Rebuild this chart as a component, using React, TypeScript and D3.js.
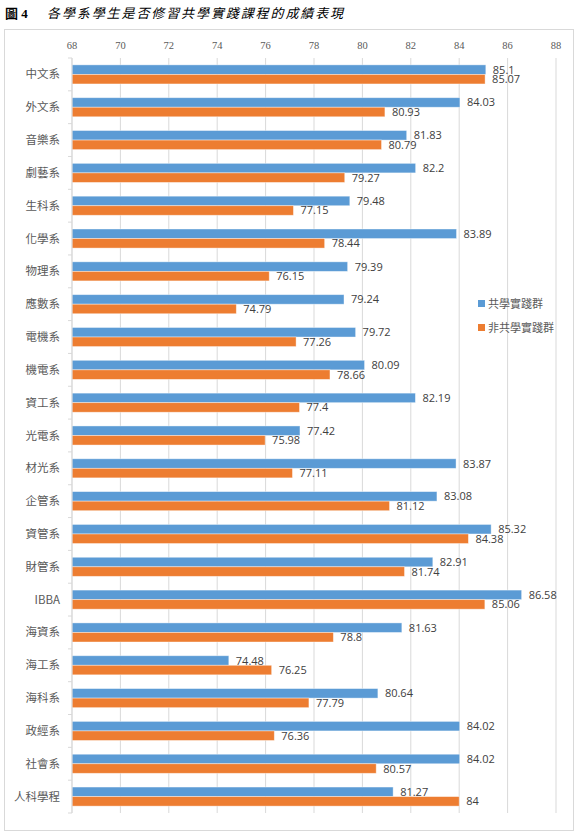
import * as d3 from "d3";

const categories = [
  "中文系", "外文系", "音樂系", "劇藝系", "生科系", "化學系", "物理系", "應數系",
  "電機系", "機電系", "資工系", "光電系", "材光系", "企管系", "資管系", "財管系",
  "IBBA", "海資系", "海工系", "海科系", "政經系", "社會系", "人科學程",
];

const practiceScores = [
  85.1, 84.03, 81.83, 82.2, 79.48, 83.89, 79.39, 79.24, 79.72, 80.09, 82.19, 77.42,
  83.87, 83.08, 85.32, 82.91, 86.58, 81.63, 74.48, 80.64, 84.02, 84.02, 81.27,
];

const nonPracticeScores = [
  85.07, 80.93, 80.79, 79.27, 77.15, 78.44, 76.15, 74.79, 77.26, 78.66, 77.4, 75.98,
  77.11, 81.12, 84.38, 81.74, 85.06, 78.8, 76.25, 77.79, 76.36, 80.57, 84,
];

const xTicks = [68, 70, 72, 74, 76, 78, 80, 82, 84, 86, 88];

const series = [
  { key: "practice", label: "共學實踐群", color: "#5b9bd5", values: practiceScores },
  { key: "nonPractice", label: "非共學實踐群", color: "#ed7d31", values: nonPracticeScores },
];

const cjk = "'Noto Sans CJK TC', 'Noto Sans CJK SC', sans-serif";

export default function App() {
  const width = 578;
  const height = 838;
  const plot = { left: 72, right: 556, top: 58, bottom: 813 };

  const x = d3.scaleLinear().domain([68, 88]).range([plot.left, plot.right]);
  const y = d3.scaleBand().domain(categories).range([plot.top, plot.bottom]).paddingInner(0).paddingOuter(0);
  const inner = d3
    .scaleBand()
    .domain(series.map((s) => s.key))
    .range([0, y.bandwidth()])
    .paddingInner(0)
    .paddingOuter(0.72);

  return (
    <svg
      width={width}
      height={height}
      viewBox={`0 0 ${width} ${height}`}
      style={{ position: "absolute", left: 0, top: 0, background: "#fff" }}
    >
      <text x={5} y={18} fontFamily="'Liberation Serif', 'Noto Sans CJK TC', serif" fontWeight="bold" fontSize={13} fill="#000">
        圖 4
      </text>
      <text
        x={47}
        y={18}
        fontFamily={cjk}
        fontStyle="italic"
        fontSize={13}
        letterSpacing={1.9}
        fill="#000"
      >
        各學系學生是否修習共學實踐課程的成績表現
      </text>

      <rect x={4.5} y={29.5} width={569} height={801} fill="none" stroke="#d9d9d9" />

      {xTicks.map((tick) => (
        <g key={tick}>
          <line x1={x(tick)} x2={x(tick)} y1={plot.top} y2={plot.bottom} stroke="#d9d9d9" strokeWidth={1} />
          <text
            x={x(tick)}
            y={49}
            textAnchor="middle"
            fontFamily="'Liberation Serif', serif"
            fontSize={10.5}
            fill="#595959"
          >
            {tick}
          </text>
        </g>
      ))}

      {categories.map((_, i) => (
        <line
          key={`tick-${i}`}
          x1={plot.left - 4}
          x2={plot.left}
          y1={plot.top + i * y.bandwidth()}
          y2={plot.top + i * y.bandwidth()}
          stroke="#d9d9d9"
        />
      ))}
      <line x1={plot.left - 4} x2={plot.left} y1={plot.bottom} y2={plot.bottom} stroke="#d9d9d9" />

      {categories.map((cat, i) => {
        const y0 = y(cat) ?? 0;
        return (
          <g key={cat}>
            <text
              x={60}
              y={y0 + y.bandwidth() / 2 + 4}
              textAnchor="end"
              fontFamily={cjk}
              fontSize={11.5}
              fill="#595959"
            >
              {cat}
            </text>
            {series.map((s) => {
              const v = s.values[i];
              const by = y0 + (inner(s.key) ?? 0);
              return (
                <g key={s.key}>
                  <rect
                    x={x(68)}
                    y={by}
                    width={x(v) - x(68)}
                    height={inner.bandwidth()}
                    fill={s.color}
                    stroke="#ffffff"
                    strokeOpacity={0.5}
                    strokeWidth={0.8}
                  />
                  <text
                    x={x(v) + 7}
                    y={by + inner.bandwidth() / 2 + 4}
                    fontFamily="'Open Sans', Lato, sans-serif"
                    fontSize={11}
                    fill="#404040"
                  >
                    {v}
                  </text>
                </g>
              );
            })}
          </g>
        );
      })}
      <line x1={plot.left} x2={plot.left} y1={plot.top} y2={plot.bottom} stroke="#d9d9d9" />

      <g transform="translate(478, 300)">
        {series.map((s, i) => (
          <g key={s.key} transform={`translate(0, ${i * 24})`}>
            <rect x={0} y={0} width={7} height={7} fill={s.color} />
            <text x={10} y={7.5} fontFamily={cjk} fontSize={11} fill="#595959">
              {s.label}
            </text>
          </g>
        ))}
      </g>
    </svg>
  );
}
